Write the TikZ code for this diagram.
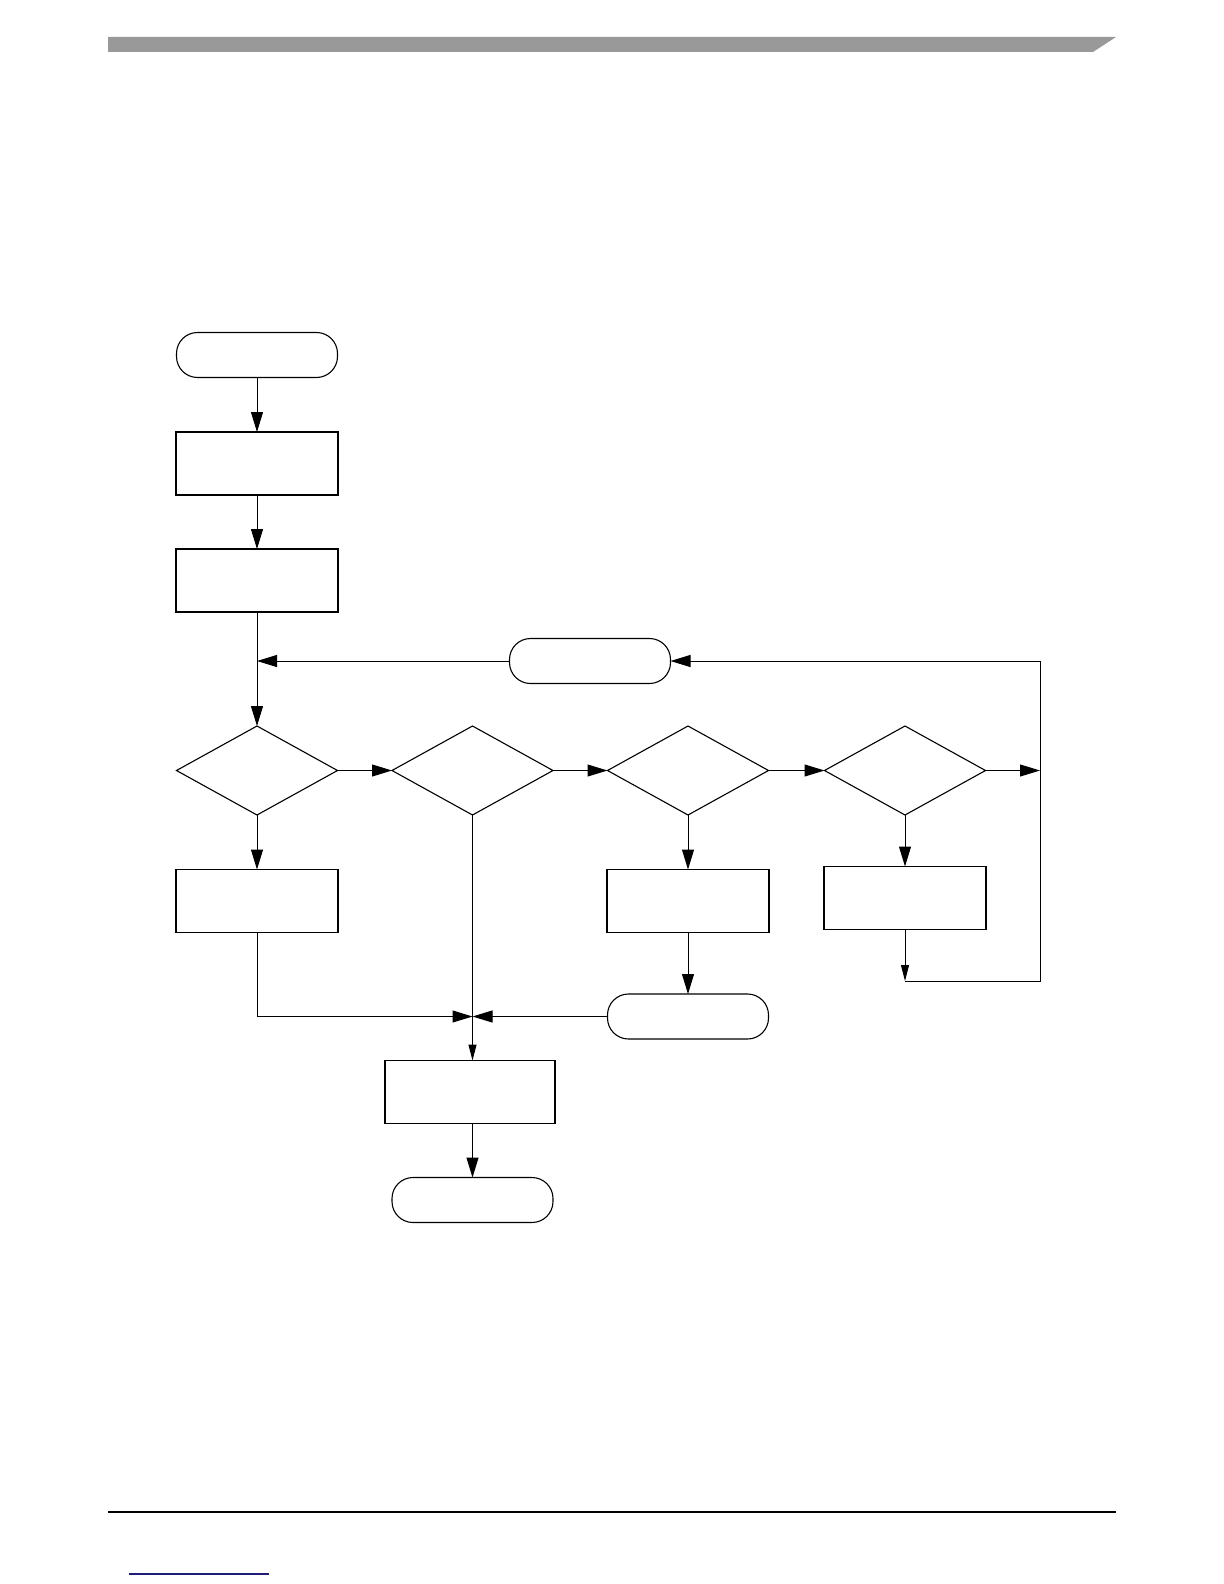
\documentclass[tikz,border=0pt]{standalone}
\usetikzlibrary{shapes.geometric,arrows.meta}
\begin{document}
\begin{tikzpicture}[x=0.5pt,y=-0.5pt,
  every node/.style={inner sep=0pt,outer sep=0pt},
  procbox/.style={draw=black,line width=0.65pt,rectangle,minimum width=81pt,minimum height=31.5pt},
  termbox/.style={draw=black,line width=0.55pt,rectangle,rounded corners=10.5pt,minimum width=80.5pt,minimum height=22.5pt},
  decbox/.style={draw=black,line width=0.55pt,diamond,minimum width=80.5pt,minimum height=44.5pt},
  conn/.style={line width=0.5pt},
  arr/.style={conn,-{Triangle[length=10pt,width=6pt]}},
  sarr/.style={conn,-{Triangle[length=8pt,width=4pt]}}]
\useasboundingbox (0,0) rectangle (1224,1584);
% page furniture
\fill[black!40] (108,37) -- (1116,37) -- (1093,52) -- (108,52) -- cycle;
\draw[line width=0.75pt] (108,1512) -- (1116,1512);
\draw[line width=0.75pt,color={rgb,255:red,30;green,30;blue,120}] (129,1574) -- (269,1574);
% nodes
\node[termbox] (start) at (257,355) {};
\node[procbox] (b1) at (257,463.5) {};
\node[procbox] (b2) at (257,580.5) {};
\node[termbox] (loop) at (590,661) {};
\node[decbox] (d1) at (257,770.5) {};
\node[decbox] (d2) at (472.5,770.5) {};
\node[decbox] (d3) at (688,770.5) {};
\node[decbox] (d4) at (905,770.5) {};
\node[procbox] (bl) at (257,901) {};
\node[procbox] (b3) at (688,901) {};
\node[procbox] (b4) at (905,898) {};
\node[termbox] (t3) at (688,1016.5) {};
\node[procbox,minimum width=85pt] (b5) at (470,1092) {};
\node[termbox] (fin) at (472.5,1200) {};
\coordinate (join) at (257,661);
\coordinate (rmid) at (1040,770.5);
\coordinate (rbot) at (1040,981);
\coordinate (rtop) at (1040,661);
\coordinate (lcorner) at (905,981);
\coordinate (merge) at (472.5,1016.5);
% connectors
\draw[arr] (start) -- (b1);
\draw[arr] (b1) -- (b2);
\draw[arr] (b2.south) -- (d1.north);
\draw[arr] (loop.west) -- (join);
\draw[arr] (d1.east) -- (d2.west);
\draw[arr] (d2.east) -- (d3.west);
\draw[arr] (d3.east) -- (d4.west);
\draw[arr] (d4.east) -- (rmid);
\draw[arr] (d1.south) -- (bl.north);
\draw[arr] (d3.south) -- (b3.north);
\draw[arr] (d4.south) -- (b4.north);
\draw[arr] (b3.south) -- (t3.north);
\draw[sarr] (b4.south) -- (lcorner);
\draw[conn] (lcorner) -- (rbot) -- (rtop);
\draw[arr] (rtop) -- (loop.east);
\draw[arr] (bl.south) |- (merge);
\draw[arr] (t3.west) -- (merge);
\draw[sarr] (d2.south) -- (d2.south |- b5.north);
\draw[arr] (b5.south -| fin.north) -- (fin.north);
\end{tikzpicture}
\end{document}
